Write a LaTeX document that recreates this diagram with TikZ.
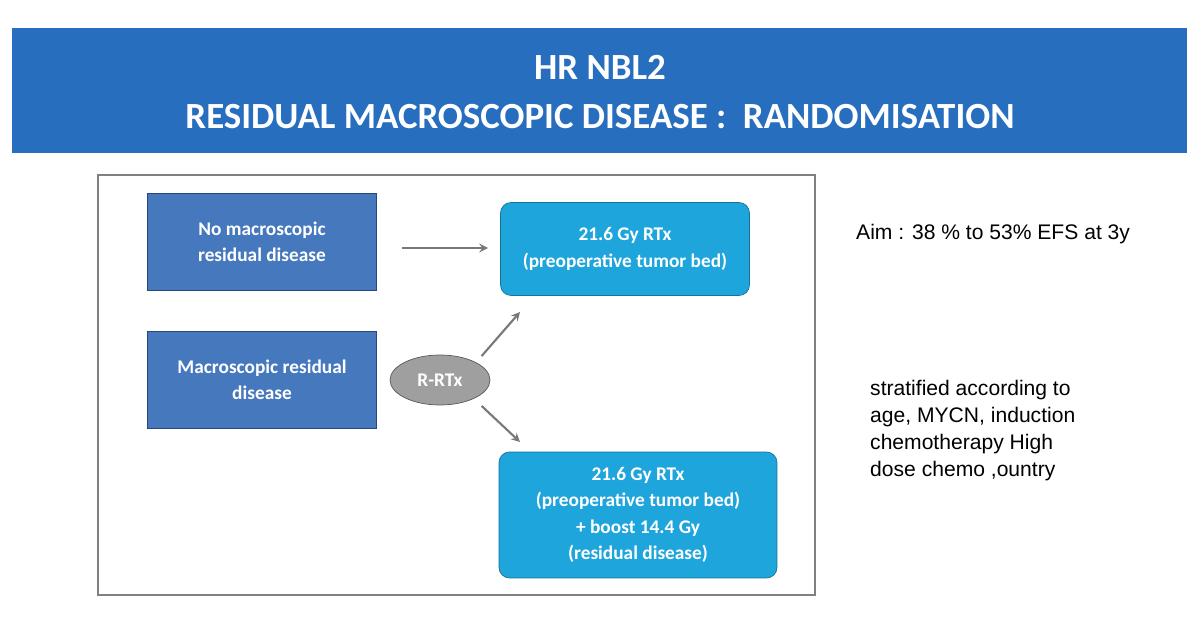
\documentclass[tikz,border=0pt]{standalone}
\usepackage{fontspec}
\setmainfont{Carlito}
\newfontfamily\arialfont{Liberation Sans}
\usetikzlibrary{shapes.geometric}
\definecolor{barblue}{RGB}{40,110,190}
\definecolor{boxblue}{RGB}{70,120,190}
\definecolor{boxedge}{RGB}{40,70,120}
\definecolor{cyanbox}{RGB}{30,165,220}
\definecolor{arrowgray}{RGB}{120,120,120}
\begin{document}
\begin{tikzpicture}[x=0.02cm,y=-0.02cm,
    stepbox/.style={draw=boxedge,line width=1pt,fill=boxblue,text=white,font=\bfseries\fontsize{11}{15}\selectfont,align=center,minimum width=4.58cm,minimum height=1.94cm,inner sep=0pt},
    armbox/.style={draw=cyanbox!70!black,fill=cyanbox,rounded corners=6pt,text=white,font=\bfseries\fontsize{11}{15}\selectfont,align=center},
    flow/.style={->,>=stealth,line width=1.2pt,draw=arrowgray}]
    \useasboundingbox (0,0) rectangle (1200,618);
    % Titel
    \fill[barblue] (12,28) rectangle (1187,153);
    \node[text=white,font=\bfseries\fontsize{21}{28}\selectfont,align=center] (title) at (600,92)
        {HR NBL2\\RESIDUAL MACROSCOPIC DISEASE :\ \ RANDOMISATION};

    % Rahmen
    \draw[gray,line width=0.8pt] (98,175) rectangle (815,595);

    % Gruppen
    \node[stepbox] (nomacro) at (262,242) {No macroscopic\\residual disease};
    \node[stepbox] (macro) at (262,380) {Macroscopic residual\\disease};
    \node[armbox,minimum width=4.98cm,minimum height=1.86cm] (rtx) at (625,249) {21.6 Gy RTx\\(preoperative tumor bed)};
    \node[armbox,minimum width=5.56cm,minimum height=2.52cm] (boost) at (638,515)
        {21.6 Gy RTx\\(preoperative tumor bed)\\+ boost 14.4 Gy\\(residual disease)};
    \node[ellipse,draw=gray!70!black,fill=gray!75,text=white,font=\bfseries\fontsize{11}{13}\selectfont,
          minimum width=2cm,minimum height=1cm] (rand) at (440,380) {R-RTx};

    % Pfeile
    \coordinate (n1) at (402,248);
    \coordinate (n2) at (488,248);
    \draw[flow] (n1) -- (n2);
    \draw[flow] (rand.north east) ++(6,-6) coordinate (u1) -- (520,312) coordinate (u2);
    \draw[flow] (rand.south east) ++(6,8) coordinate (d1) -- (520,442) coordinate (d2);

    % Text rechts
    \node[anchor=west,font=\arialfont\fontsize{12}{14}\selectfont] (aim) at (850,234) {Aim : 38 \% to 53\% EFS at 3y};
    \node[anchor=north west,align=left,font=\arialfont\fontsize{12}{15.3}\selectfont] (strat) at (864,374)
        {stratified according to\\age, MYCN, induction\\chemotherapy High\\dose chemo ,ountry};
\end{tikzpicture}
\end{document}
